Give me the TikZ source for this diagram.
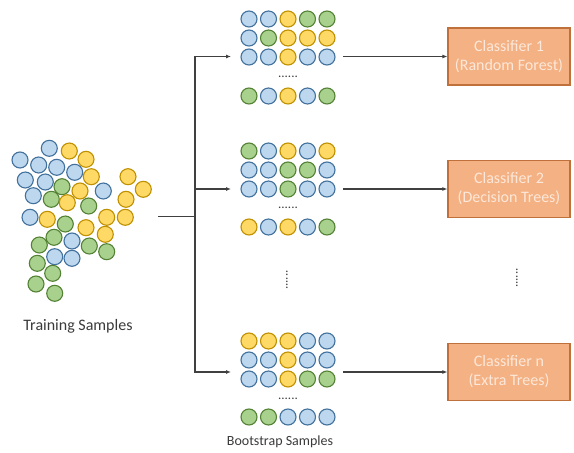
\documentclass[tikz,border=0pt]{standalone}
\usepackage{fontspec}
\setmainfont{Carlito}
\usetikzlibrary{arrows.meta}
\definecolor{bs}{HTML}{BDD7EE}
\definecolor{bsline}{HTML}{41719C}
\definecolor{ys}{HTML}{FFD966}
\definecolor{ysline}{HTML}{BF9000}
\definecolor{gs}{HTML}{A9D18E}
\definecolor{gsline}{HTML}{548235}
\definecolor{cls}{HTML}{F4B183}
\definecolor{clsline}{HTML}{C0703A}
\definecolor{clstext}{HTML}{FCE8DA}
\definecolor{ln}{HTML}{404040}
\tikzset{bs/.style={circle,draw=bsline,fill=bs,line width=1.1pt,minimum size=16pt,inner sep=0pt}}
\tikzset{ys/.style={circle,draw=ysline,fill=ys,line width=1.1pt,minimum size=16pt,inner sep=0pt}}
\tikzset{gs/.style={circle,draw=gsline,fill=gs,line width=1.1pt,minimum size=16pt,inner sep=0pt}}
\tikzset{cls/.style={draw=clsline,fill=cls,text=clstext,line width=1.2pt,rectangle,minimum width=122pt,minimum height=57pt,align=center,font=\fontsize{16}{19}\selectfont}}
\tikzset{lbl/.style={text=ln!90!black,font=\fontsize{16}{18}\selectfont}}
\tikzset{dots/.style={text=ln,inner sep=0pt,font=\fontsize{13}{13}\selectfont}}

\begin{document}
\begin{tikzpicture}[x=1pt,y=-1pt,>={Latex[length=5pt,width=4pt]}]
    \useasboundingbox (0,0) rectangle (574,453);

    % training samples
    \foreach \x/\y/\c [count=\i] in {49.3/148.3/bs, 69.3/151/ys, 20/160/bs, 86/159.3/ys,
        38.7/165/bs, 56.7/167.3/bs, 74.7/172.3/bs, 91.3/176.7/ys, 128/176.7/ys,
        25.3/180/bs, 45.3/182/bs, 62/186.7/gs, 80/191/ys, 103.3/191/bs, 143.3/189.3/ys,
        33.3/195.7/bs, 51.3/199.3/gs, 67.3/202.7/ys, 88.7/206/gs, 126/199.3/ys,
        30/217.3/bs, 47.3/219.3/ys, 65.3/224/gs, 106.7/217.3/ys, 125.3/217.3/ys,
        86/227.7/ys, 54/237.3/gs, 72/241/bs, 105.3/234.3/ys, 39.3/245/gs,
        89.3/246/gs, 106.7/251.7/gs, 54.7/256.7/bs, 72/258.3/bs, 37.3/263.3/gs,
        52.7/273.3/gs, 36/284/gs, 54.7/293.3/gs}
        \node[\c] (t\i) at (\x,\y) {};
    \node[lbl] (train) at (78,326) {Training Samples};

    % bootstrap set 1
    \foreach \c [count=\i] in {bs,bs,ys,gs,gs} \node[\c] (a1\i) at ({249+19.5*(\i-1)},19) {};
    \foreach \c [count=\i] in {bs,gs,ys,ys,ys} \node[\c] (a2\i) at ({249+19.5*(\i-1)},38) {};
    \foreach \c [count=\i] in {bs,bs,ys,bs,bs} \node[\c] (a3\i) at ({249+19.5*(\i-1)},57) {};
    \node[dots] (adots) at (288,77) {......};
    \foreach \c [count=\i] in {gs,bs,ys,bs,gs} \node[\c] (a4\i) at ({249+19.5*(\i-1)},96) {};

    % bootstrap set 2
    \foreach \c [count=\i] in {gs,bs,ys,bs,ys} \node[\c] (b1\i) at ({249+19.5*(\i-1)},151) {};
    \foreach \c [count=\i] in {bs,bs,gs,gs,bs} \node[\c] (b2\i) at ({249+19.5*(\i-1)},170) {};
    \foreach \c [count=\i] in {bs,bs,gs,bs,bs} \node[\c] (b3\i) at ({249+19.5*(\i-1)},189) {};
    \node[dots] (bdots) at (288,208) {......};
    \foreach \c [count=\i] in {ys,bs,ys,bs,gs} \node[\c] (b4\i) at ({249+19.5*(\i-1)},227) {};

    % bootstrap set n
    \foreach \c [count=\i] in {ys,ys,ys,bs,bs} \node[\c] (c1\i) at ({249+19.5*(\i-1)},341) {};
    \foreach \c [count=\i] in {bs,bs,ys,bs,bs} \node[\c] (c2\i) at ({249+19.5*(\i-1)},360) {};
    \foreach \c [count=\i] in {bs,bs,ys,gs,gs} \node[\c] (c3\i) at ({249+19.5*(\i-1)},379) {};
    \node[dots] (cdots) at (288,399) {......};
    \foreach \c [count=\i] in {gs,gs,bs,bs,bs} \node[\c] (c4\i) at ({249+19.5*(\i-1)},417) {};
    \node[lbl,font=\fontsize{14}{16}\selectfont] (boot) at (280,442) {Bootstrap Samples};

    \node[dots,rotate=90] (vdots1) at (287,280) {......};

    % classifiers
    \node[cls] (cls1) at (509,56.5) {Classifier 1\\(Random Forest)};
    \node[cls] (cls2) at (509,189) {Classifier 2\\(Decision Trees)};
    \node[cls] (cls3) at (509,372) {Classifier n\\(Extra Trees)};
    \node[dots,rotate=90] (vdots2) at (517,278) {......};

    % connectors
    \coordinate (tout) at (158,216.7);
    \coordinate (fork) at (195,216.7);
    \coordinate (in1) at (231,56.5);
    \coordinate (in2) at (231,189);
    \coordinate (in3) at (231,372);
    \coordinate (out1) at (343,56.5);
    \coordinate (out2) at (343,189);
    \coordinate (out3) at (343,372);

    \draw[ln,line width=1.2pt] (tout) -- (fork);
    \draw[ln,line width=1.2pt,->] (fork) |- (in1);
    \draw[ln,line width=1.2pt,->] (fork) |- (in2);
    \draw[ln,line width=1.2pt,->] (fork) |- (in3);
    \draw[ln,line width=1.2pt,->] (out1) -- (cls1);
    \draw[ln,line width=1.2pt,->] (out2) -- (cls2);
    \draw[ln,line width=1.2pt,->] (out3) -- (cls3);
\end{tikzpicture}
\end{document}
